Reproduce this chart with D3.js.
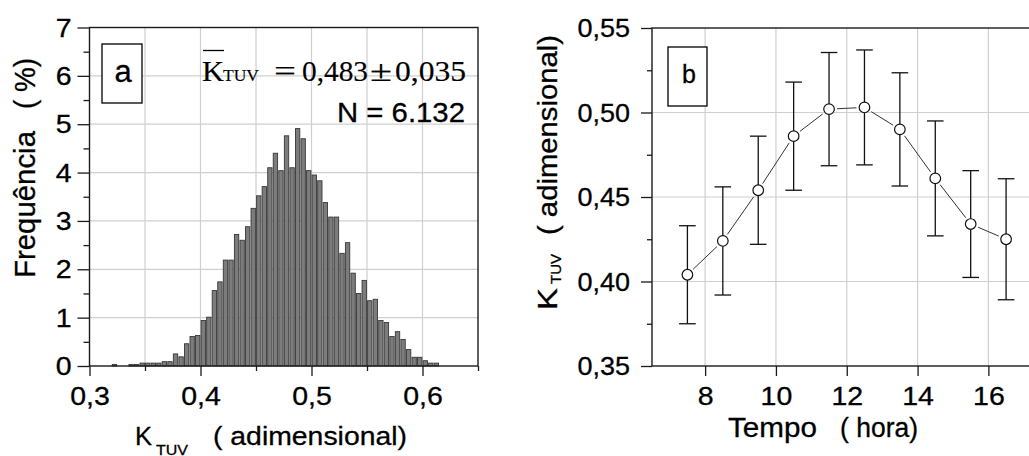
<!DOCTYPE html>
<html lang="pt">
<head>
<meta charset="UTF-8">
<title>K TUV</title>
<script src="https://d3js.org/d3.v7.min.js"></script>
<style>
  body { margin: 0; background: #fff; }
  svg { display: block; }
  text { font-family: "Liberation Sans", Arial, sans-serif; fill: #000; stroke: #000; stroke-width: 0.3px; }
</style>
</head>
<body>
<svg width="1029" height="456"></svg>
<script>
// ---- panel a: histogram of K_TUV (frequency in %) ----
const binLeft = [0.320, 0.325, 0.330, 0.335, 0.340, 0.345, 0.350, 0.355, 0.360, 0.365,
                 0.370, 0.375, 0.380, 0.385, 0.390, 0.395, 0.400, 0.405, 0.410, 0.415,
                 0.420, 0.425, 0.430, 0.435, 0.440, 0.445, 0.450, 0.455, 0.460, 0.465,
                 0.470, 0.475, 0.480, 0.485, 0.490, 0.495, 0.500, 0.505, 0.510, 0.515,
                 0.520, 0.525, 0.530, 0.535, 0.540, 0.545, 0.550, 0.555, 0.560, 0.565,
                 0.570, 0.575, 0.580, 0.585, 0.590, 0.595, 0.600, 0.605, 0.610];
const freqPct = [0.03, 0, 0, 0.03, 0.03, 0.06, 0.06, 0.06, 0.06, 0.09,
                 0.09, 0.25, 0.19, 0.46, 0.61, 0.63, 0.94, 1.01, 1.56, 1.74,
                 2.19, 2.19, 2.72, 2.60, 2.88, 3.26, 3.52, 3.71, 4.10, 4.40,
                 4.04, 4.76, 4.10, 4.91, 4.70, 4.04, 3.95, 3.83, 3.38, 3.08,
                 3.08, 2.33, 2.55, 1.92, 1.50, 1.77, 1.35, 1.38, 0.94, 0.90,
                 0.61, 0.71, 0.55, 0.34, 0.18, 0.18, 0.11, 0.06, 0.06];
const binWidth = 0.005;
const histXTicks = [0.3, 0.4, 0.5, 0.6];
const histXMinor = [0.35, 0.45, 0.55, 0.65];
const histXGrid = [0.35, 0.4, 0.45, 0.5, 0.55, 0.6];
const histYTicks = [0, 1, 2, 3, 4, 5, 6, 7];
const histYMinor = [0.5, 1.5, 2.5, 3.5, 4.5, 5.5, 6.5];
const histYGrid = [1, 2, 3, 4, 5, 6];

// ---- panel b: hourly mean K_TUV with standard deviation ----
const hours = [7.5, 8.5, 9.5, 10.5, 11.5, 12.5, 13.5, 14.5, 15.5, 16.5];
const kMean = [0.404, 0.424, 0.454, 0.486, 0.502, 0.503, 0.490, 0.461, 0.434, 0.425];
const kErr  = [0.029, 0.032, 0.032, 0.032, 0.0335, 0.034, 0.0335, 0.034, 0.0316, 0.0358];
const timeTicks = [8, 10, 12, 14, 16];
const kTicks = [0.35, 0.40, 0.45, 0.50, 0.55];
const kMinor = [0.375, 0.425, 0.475, 0.525];
const kGrid = [0.40, 0.45, 0.50];

const svg = d3.select("svg");
const ptBR = d3.formatLocale({decimal: ",", thousands: ".", grouping: [3], currency: ["", ""]});
const axisColor = "#1a1a1a";
const gridColor = "#cfcfcf";
const tickStretch = 1.14;

function styleAxis(g, fontSize) {
    g.select(".domain").remove();
    g.selectAll(".tick line").attr("stroke", axisColor).attr("stroke-width", 1.3);
    g.selectAll(".tick text")
        .style("font-size", fontSize + "px")
        .style("font-family", "Liberation Sans, Arial, sans-serif")
        .attr("fill", "#000");
}

// free text with fixed length (the reference fonts are a bit wide)
function label(x, y, txt, size, len, opts = {}) {
    const t = svg.append("text")
        .attr("x", x).attr("y", y)
        .style("font-size", size + "px")
        .text(txt);
    if (opts.serif) t.style("font-family", "Liberation Serif, Times New Roman, serif").style("stroke-width", "0.15px");
    if (len) t.attr("textLength", len).attr("lengthAdjust", "spacingAndGlyphs");
    if (opts.anchor) t.attr("text-anchor", opts.anchor);
    return t;
}
function vlabel(x, y, txt, size, len) {
    return svg.append("text")
        .attr("transform", `translate(${x},${y}) rotate(-90)`)
        .style("font-size", size + "px")
        .attr("textLength", len).attr("lengthAdjust", "spacingAndGlyphs")
        .text(txt);
}

// ================= panel a =================
const xL = d3.scaleLinear().domain([0.3, 0.65]).range([89.5, 478]);
const yL = d3.scaleLinear().domain([0, 7]).range([366, 27.5]);

const gA = svg.append("g");
gA.selectAll("line.vgrid").data(histXGrid).join("line")
    .attr("x1", d => xL(d)).attr("x2", d => xL(d))
    .attr("y1", yL(0)).attr("y2", yL(7))
    .attr("stroke", gridColor).attr("stroke-width", 1.2);
gA.selectAll("line.hgrid").data(histYGrid).join("line")
    .attr("x1", xL(0.3)).attr("x2", xL(0.65))
    .attr("y1", d => yL(d)).attr("y2", d => yL(d))
    .attr("stroke", gridColor).attr("stroke-width", 1.2);

const bins = binLeft.map((b, i) => ({b, f: freqPct[i]})).filter(d => d.f > 0);
gA.selectAll("rect.bar").data(bins).join("rect")
    .attr("x", d => xL(d.b) + 0.6)
    .attr("width", d => xL(d.b + binWidth) - xL(d.b) - 1.2)
    .attr("y", d => yL(d.f))
    .attr("height", d => yL(0) - yL(d.f))
    .attr("fill", "#7c7c7c")
    .attr("stroke", "#383838")
    .attr("stroke-width", 0.9);

// axes
const axLx = gA.append("g").attr("transform", `translate(0,${yL(0)})`)
    .call(d3.axisBottom(xL).tickValues(histXTicks).tickSize(10).tickSizeOuter(0)
        .tickPadding(11).tickFormat(ptBR.format(".1f")));
styleAxis(axLx, 25);
axLx.selectAll(".tick text").attr("transform", `scale(${tickStretch},1)`);
const axLxm = gA.append("g").attr("transform", `translate(0,${yL(0)})`)
    .call(d3.axisBottom(xL).tickValues(histXMinor).tickSize(5).tickSizeOuter(0).tickFormat(""));
styleAxis(axLxm, 10);

const axLy = gA.append("g").attr("transform", `translate(${xL(0.3)},0)`)
    .call(d3.axisLeft(yL).tickValues(histYTicks).tickSize(12).tickSizeOuter(0)
        .tickPadding(6).tickFormat(d3.format("d")));
styleAxis(axLy, 25);
axLy.selectAll(".tick text").attr("transform", `scale(${tickStretch},1)`)
    .attr("x", -18 / tickStretch).attr("dy", "0.34em");
const axLym = gA.append("g").attr("transform", `translate(${xL(0.3)},0)`)
    .call(d3.axisLeft(yL).tickValues(histYMinor).tickSize(6).tickSizeOuter(0).tickFormat(""));
styleAxis(axLym, 10);

// frame
gA.append("rect")
    .attr("x", xL(0.3)).attr("y", yL(7))
    .attr("width", xL(0.65) - xL(0.3)).attr("height", yL(0) - yL(7))
    .attr("fill", "none").attr("stroke", axisColor).attr("stroke-width", 1.4);

// box "a"
svg.append("rect").attr("x", 102).attr("y", 44).attr("width", 40).attr("height", 59)
    .attr("fill", "#fff").attr("stroke", "#000").attr("stroke-width", 1.3);
label(123, 81.5, "a", 31, null, {anchor: "middle"});

// mean and N
svg.append("line").attr("x1", 203).attr("x2", 224).attr("y1", 50.5).attr("y2", 50.5)
    .attr("stroke", "#000").attr("stroke-width", 1.3);
label(202, 81, "K", 30, 22, {serif: true});
label(223, 81, "TUV", 17, 36, {serif: true});
label(274, 81, "=", 30, 22, {serif: true});
label(302, 81, "0,483", 30, 66, {serif: true});
label(370, 81, "±", 30, 22, {serif: true});
label(395, 81, "0,035", 30, 71, {serif: true});
label(337, 121.7, "N = 6.132", 28, 128);

// axis titles
vlabel(35, 278, "Frequência", 29, 147);
vlabel(35, 109, "( %)", 29, 51);
label(135, 445, "K", 26, 17);
label(156, 454.5, "TUV", 15, 32);
label(213, 445, "( adimensional)", 26, 194);

// ================= panel b =================
const xR = d3.scaleLinear().domain([6.5, 17.5]).range([652, 1041.5]);
const yR = d3.scaleLinear().domain([0.35, 0.55]).range([366, 28]);

const gB = svg.append("g");
gB.selectAll("line.vgrid").data(timeTicks).join("line")
    .attr("x1", d => xR(d)).attr("x2", d => xR(d))
    .attr("y1", yR(0.35)).attr("y2", yR(0.55))
    .attr("stroke", gridColor).attr("stroke-width", 1.2);
gB.selectAll("line.hgrid").data(kGrid).join("line")
    .attr("x1", xR(6.5)).attr("x2", xR(17.5))
    .attr("y1", d => yR(d)).attr("y2", d => yR(d))
    .attr("stroke", gridColor).attr("stroke-width", 1.2);

const axRx = gB.append("g").attr("transform", `translate(0,${yR(0.35)})`)
    .call(d3.axisBottom(xR).tickValues(timeTicks).tickSize(10).tickSizeOuter(0)
        .tickPadding(11).tickFormat(d3.format("d")));
styleAxis(axRx, 25);
axRx.selectAll(".tick text").attr("transform", `scale(${tickStretch},1)`);

const axRy = gB.append("g").attr("transform", `translate(${xR(6.5)},0)`)
    .call(d3.axisLeft(yR).tickValues(kTicks).tickSize(11).tickSizeOuter(0)
        .tickPadding(11).tickFormat(ptBR.format(".2f")));
styleAxis(axRy, 25);
axRy.selectAll(".tick text").attr("transform", `scale(1.08,1)`)
    .attr("x", -22 / 1.08).attr("dy", "0.34em");
const axRym = gB.append("g").attr("transform", `translate(${xR(6.5)},0)`)
    .call(d3.axisLeft(yR).tickValues(kMinor).tickSize(5).tickSizeOuter(0).tickFormat(""));
styleAxis(axRym, 10);

gB.append("rect")
    .attr("x", xR(6.5)).attr("y", yR(0.55))
    .attr("width", xR(17.5) - xR(6.5)).attr("height", yR(0.35) - yR(0.55))
    .attr("fill", "none").attr("stroke", axisColor).attr("stroke-width", 1.4);

const pts = hours.map((h, i) => ({h, m: kMean[i], e: kErr[i]}));

// connecting line, broken around the symbols
const gap = 8;
gB.selectAll("line.link").data(pts.slice(1)).join("line")
    .each(function (d, i) {
        const p = pts[i];
        const x1 = xR(p.h), y1 = yR(p.m), x2 = xR(d.h), y2 = yR(d.m);
        const len = Math.hypot(x2 - x1, y2 - y1);
        const ux = (x2 - x1) / len, uy = (y2 - y1) / len;
        d3.select(this)
            .attr("x1", x1 + ux * gap).attr("y1", y1 + uy * gap)
            .attr("x2", x2 - ux * gap).attr("y2", y2 - uy * gap);
    })
    .attr("stroke", "#333").attr("stroke-width", 1);

// error bars
const cap = 8.3;
const eb = gB.selectAll("g.err").data(pts).join("g").attr("class", "err");
eb.append("line")
    .attr("x1", d => xR(d.h)).attr("x2", d => xR(d.h))
    .attr("y1", d => yR(d.m + d.e)).attr("y2", d => yR(d.m - d.e));
eb.append("line")
    .attr("x1", d => xR(d.h) - cap).attr("x2", d => xR(d.h) + cap)
    .attr("y1", d => yR(d.m + d.e)).attr("y2", d => yR(d.m + d.e));
eb.append("line")
    .attr("x1", d => xR(d.h) - cap).attr("x2", d => xR(d.h) + cap)
    .attr("y1", d => yR(d.m - d.e)).attr("y2", d => yR(d.m - d.e));
eb.selectAll("line").attr("stroke", "#111").attr("stroke-width", 1.3);

gB.selectAll("circle").data(pts).join("circle")
    .attr("cx", d => xR(d.h)).attr("cy", d => yR(d.m))
    .attr("r", 5.3)
    .attr("fill", "#fff").attr("stroke", "#111").attr("stroke-width", 1.2);

// box "b"
svg.append("rect").attr("x", 668).attr("y", 47).attr("width", 39).attr("height", 59)
    .attr("fill", "#fff").attr("stroke", "#000").attr("stroke-width", 1.3);
label(689, 83.3, "b", 25, null, {anchor: "middle"});

// axis titles
label(728, 436.7, "Tempo", 27, 89);
label(840, 436.7, "( hora)", 27, 78);
vlabel(557, 310, "K", 28, 22);
vlabel(561, 284, "TUV", 14, 30);
vlabel(557, 235, "( adimensional)", 28, 200);
</script>
</body>
</html>
